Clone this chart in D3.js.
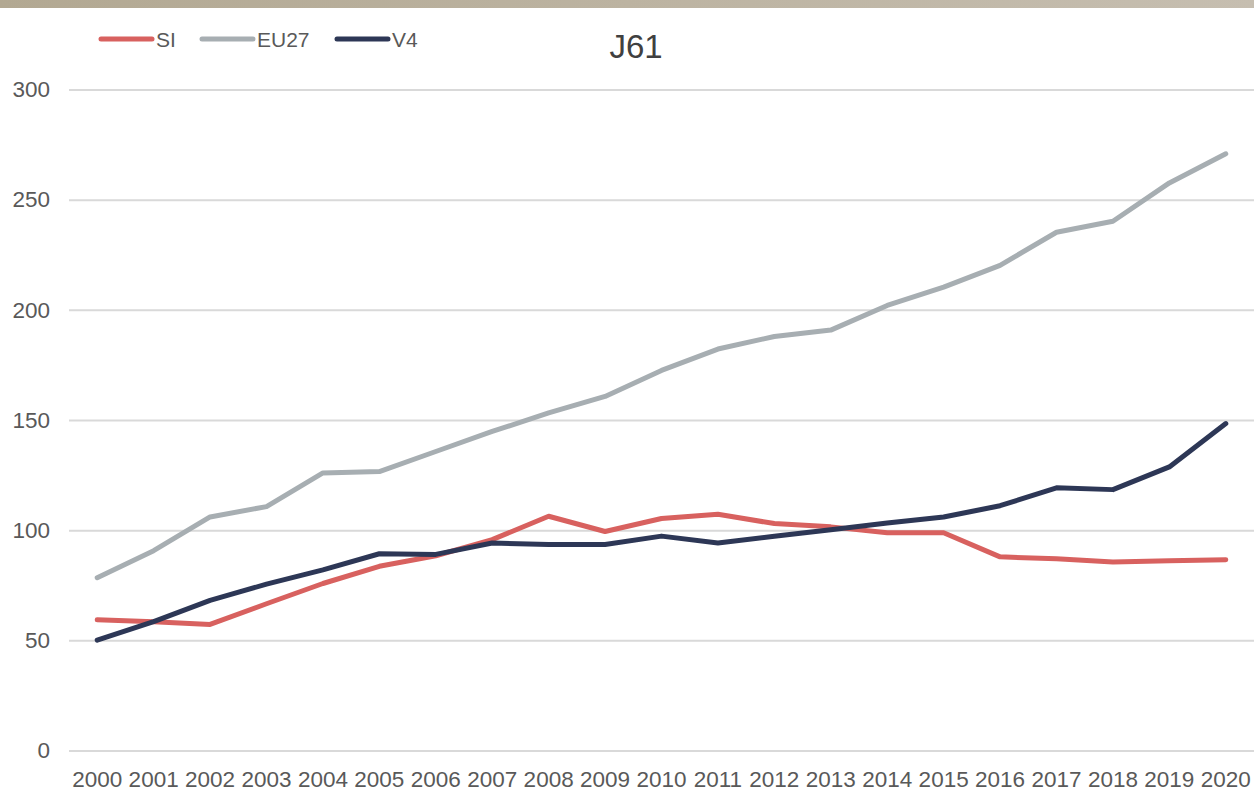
<!DOCTYPE html>
<html>
<head>
<meta charset="utf-8">
<script src="https://cdn.jsdelivr.net/npm/d3@7"></script>
<style>
  html, body { margin: 0; padding: 0; background: #fff; }
  svg { display: block; font-family: "Liberation Sans", Arial, sans-serif; }
</style>
</head>
<body>
<svg id="chart" width="1254" height="794"></svg>
<script>
// data
const years = ["2000","2001","2002","2003","2004","2005","2006","2007","2008","2009","2010",
  "2011","2012","2013","2014","2015","2016","2017","2018","2019","2020"]

const si = [59.3, 58.4, 57.2, 66.6, 75.8, 83.6, 88.4, 95.7, 106.3, 99.4, 105.3,
  107.2, 103, 101.5, 98.8, 98.8, 87.9, 87, 85.6, 86.1, 86.6]

const eu27 = [78.4, 90.7, 106, 110.7, 126, 126.6, 135.7, 144.8, 153.2, 160.7, 172.5,
  182.2, 187.9, 190.8, 202, 210.3, 220.2, 235.2, 240.2, 257.6, 270.8]

const v4 = [50.1, 58.5, 68.1, 75.5, 82, 89.3, 89, 94.2, 93.5, 93.5, 97.3,
  94.2, 97.2, 100.2, 103.3, 106, 111.1, 119.2, 118.4, 128.7, 148.4]

const yTicks = [0, 50, 100, 150, 200, 250, 300]

const series = [
  { name: "SI", values: si, color: "#d8615f" },
  { name: "EU27", values: eu27, color: "#a7aeb2" },
  { name: "V4", values: v4, color: "#2d3756" }
]

const svg = d3.select("#chart")

// top band
const grad = svg.append("defs").append("linearGradient")
  .attr("id", "band").attr("x1", "0").attr("x2", "1")
grad.append("stop").attr("offset", "0").attr("stop-color", "#b2a892")
grad.append("stop").attr("offset", "1").attr("stop-color", "#c6beb0")
svg.append("rect").attr("x", 0).attr("y", 0).attr("width", 1254).attr("height", 8)
  .attr("fill", "url(#band)")

/**
 * Scales
 */
const x = d3.scaleBand().domain(years).range([69, 1254]).padding(0)
const y = d3.scaleLinear().domain([0, 300]).range([750.5, 89.5])

/**
 * Gridlines + y labels
 */
const yAxis = d3.axisLeft(y).tickValues(yTicks).tickSize(-(1254 - 69)).tickPadding(19)
const gy = svg.append("g").attr("transform", "translate(69,0)").call(yAxis)
gy.select(".domain").remove()
gy.selectAll(".tick line").attr("stroke", "#d9d9d9").attr("stroke-width", 2)
gy.selectAll(".tick text")
  .attr("fill", "#595959").attr("font-size", 22.5)
  .attr("font-family", "Liberation Sans, Arial, sans-serif")

/**
 * x labels
 */
const xAxis = d3.axisBottom(x).tickSize(0).tickPadding(0)
const gx = svg.append("g").attr("transform", "translate(0,750.5)").call(xAxis)
gx.select(".domain").remove()
gx.selectAll(".tick text")
  .attr("dy", null).attr("y", 36.5)
  .attr("fill", "#595959").attr("font-size", 22.5)
  .attr("font-family", "Liberation Sans, Arial, sans-serif")

/**
 * Lines
 */
const line = d3.line()
  .x((d, i) => x(years[i]) + x.bandwidth() / 2)
  .y(d => y(d))

svg.selectAll(".series")
  .data(series)
  .enter()
  .append("path")
  .attr("class", "series")
  .attr("d", d => line(d.values))
  .attr("fill", "none")
  .attr("stroke", d => d.color)
  .attr("stroke-width", 5)
  .attr("stroke-linejoin", "round")
  .attr("stroke-linecap", "round")

/**
 * Legend
 */
const legendX = [101, 202, 337]
const leg = svg.selectAll(".legend")
  .data(series)
  .enter()
  .append("g")
  .attr("class", "legend")
  .attr("transform", (d, i) => `translate(${legendX[i]},39)`)

leg.append("line")
  .attr("x1", 0).attr("x2", 51)
  .attr("stroke", d => d.color)
  .attr("stroke-width", 5)
  .attr("stroke-linecap", "round")

leg.append("text")
  .attr("x", 55).attr("y", 7.5)
  .attr("fill", "#595959").attr("font-size", 21)
  .text(d => d.name)

/**
 * Title
 */
svg.append("text")
  .attr("x", 636).attr("y", 58)
  .attr("text-anchor", "middle")
  .attr("fill", "#404040").attr("font-size", 33)
  .text("J61")
</script>
</body>
</html>
